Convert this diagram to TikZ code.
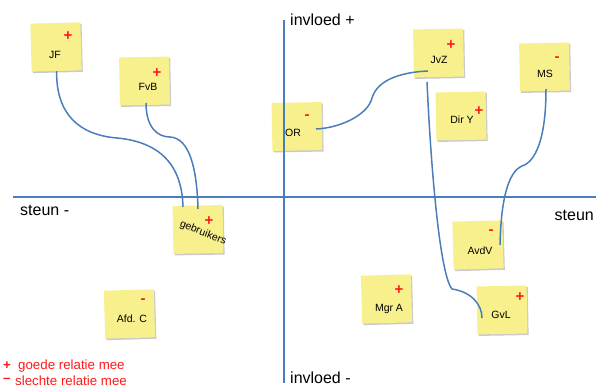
\documentclass[tikz,border=0pt]{standalone}
\usepackage{fontspec}
\setmainfont{Liberation Sans}
\usetikzlibrary{shadows}
\definecolor{postit}{HTML}{F7F08C}
\definecolor{axisblue}{HTML}{4A7EBB}
\definecolor{signred}{HTML}{FF1A1A}
\tikzset{
  note/.style={rectangle, fill=postit, minimum width=50pt, minimum height=48pt, inner sep=0pt,
    drop shadow={shadow xshift=1.2pt, shadow yshift=-1.5pt, opacity=0.35, fill=black!60}},
  notetext/.style={font=\fontsize{10.5}{12}\selectfont, inner sep=0pt},
  sign/.style={font=\fontsize{15}{15}\selectfont\bfseries, text=signred, inner sep=0pt},
  axis/.style={draw=axisblue, line width=1.5pt},
  link/.style={draw=axisblue, line width=1.5pt},
  axislabel/.style={font=\fontsize{16}{18}\selectfont, inner sep=0pt},
  legend/.style={font=\fontsize{13.3}{14}\selectfont, text=signred, inner sep=0pt, anchor=west}
}
\begin{document}
\begin{tikzpicture}[x=1pt,y=-1pt]
\useasboundingbox (0,0) rectangle (599,387);
% notes
\node[note, rotate=1.5] (JF) at (56,47) {};
\node[note, rotate=1] (FvB) at (144.5,81) {};
\node[note, rotate=1] (OR) at (297,126.5) {};
\node[note, rotate=1] (JvZ) at (438.5,53) {};
\node[note, rotate=1] (DirY) at (461,116) {};
\node[note, rotate=1] (MS) at (544.5,67) {};
\node[note, rotate=1] (geb) at (198,229.5) {};
\node[note, rotate=1.5] (AfdC) at (129.5,314) {};
\node[note, rotate=1.5] (AvdV) at (478,245) {};
\node[note, rotate=1.5] (MgrA) at (386.5,299) {};
\node[note, rotate=1] (GvL) at (502,310) {};
% note texts
\node[notetext] (tJF) at (55,55) {JF};
\node[sign] (sJF) at (68,36) {+};
\node[notetext] (tFvB) at (148,87) {FvB};
\node[sign] (sFvB) at (157,73) {+};
\node[notetext] (tOR) at (293,133) {OR};
\node[sign] (sOR) at (307,117) {-};
\node[notetext] (tJvZ) at (439,60) {JvZ};
\node[sign] (sJvZ) at (451,45) {+};
\node[notetext] (tDirY) at (462,120) {Dir Y};
\node[sign] (sDirY) at (479,111) {+};
\node[notetext] (tMS) at (545,74) {MS};
\node[sign] (sMS) at (557,59) {-};
\node[notetext, rotate=-22] (tgeb) at (203,233) {gebruikers};
\node[sign] (sgeb) at (209,221) {+};
\node[notetext] (tAfdC) at (132,319) {Afd. C};
\node[sign] (sAfdC) at (143,301) {-};
\node[notetext] (tAvdV) at (480,251) {AvdV};
\node[sign] (sAvdV) at (491,232) {-};
\node[notetext] (tMgrA) at (389,309) {Mgr A};
\node[sign] (sMgrA) at (399,290) {+};
\node[notetext] (tGvL) at (501,315) {GvL};
\node[sign] (sGvL) at (520,297) {+};
% axes
\coordinate (hL) at (13,197);
\coordinate (hR) at (596,197);
\coordinate (vT) at (284,20);
\coordinate (vB) at (284,383);
\draw[axis] (hL) -- (hR);
\draw[axis] (vT) -- (vB);
\node[axislabel, anchor=west] (invp) at (290,20) {invloed +};
\node[axislabel, anchor=west] (invm) at (290,378) {invloed -};
\node[axislabel, anchor=west] (steunm) at (20,210) {steun -};
\node[axislabel, anchor=east] (steunp) at (594,215) {steun};
% connection points
\coordinate (gebA) at (183,207);
\coordinate (gebB) at (198,209);
\coordinate (orP) at (316,129);
\coordinate (jvzR) at (428,71);
\coordinate (jvzB) at (427,82);
\coordinate (gvlP) at (482,318);
\coordinate (msB) at (546,89);
\coordinate (avdvP) at (500,245);
\coordinate (fvbB) at (146,103);
% connectors
\draw[link] (JF.south) .. controls (56,115) and (80,135) .. (117,138) .. controls (160,142) and (182,165) .. (gebA);
\draw[link] (fvbB) .. controls (146,128) and (158,137) .. (170,137) .. controls (190,138) and (197,170) .. (gebB);
\draw[link] (orP) .. controls (340,128) and (368,115) .. (372,98) .. controls (378,78) and (405,72) .. (jvzR);
\draw[link] (jvzB) .. controls (431,170) and (440,275) .. (452,289) .. controls (472,292) and (482,305) .. (gvlP);
\draw[link] (msB) .. controls (546,140) and (535,162) .. (522,166) .. controls (508,172) and (501,200) .. (avdvP);
% legend
\node[legend] (lp) at (3,366) {\bfseries +};
\node[legend] (lpt) at (18,366) {goede relatie mee};
\node[legend] (lm) at (3,380.5) {\bfseries –};
\node[legend] (lmt) at (15,380.5) {slechte relatie mee};
\end{tikzpicture}
\end{document}
